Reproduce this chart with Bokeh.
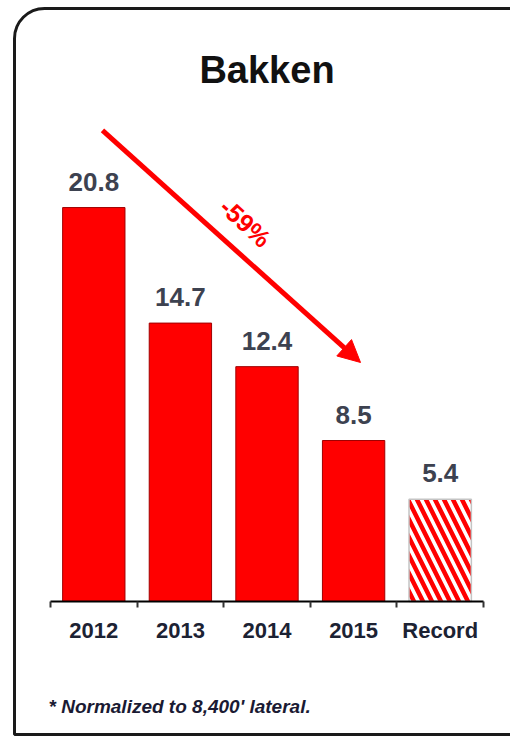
from bokeh.plotting import figure
from bokeh.models import (ColumnDataSource, FixedTicker, Label, Arrow, NormalHead,
                          BoxAnnotation, Range1d, LinearAxis)
from bokeh.embed import file_html
from bokeh.resources import INLINE
from bokeh.core.properties import value

# ---------------- data ----------------
title_text = "Bakken"
categories = ["2012", "2013", "2014", "2015", "Record"]
values = [20.8, 14.7, 12.4, 8.5, 5.4]
value_labels = ["20.8", "14.7", "12.4", "8.5", "5.4"]
is_record = [False, False, False, False, True]
footnote = "* Normalized to 8,400' lateral."

# ---------------- derived ----------------
n = len(categories)
centers = [i + 0.5 for i in range(n)]
change_pct = round((values[3] - values[0]) / values[0] * 100)
change_text = f"{change_pct}%"

solid = ColumnDataSource(dict(
    x=[c for c, r in zip(centers, is_record) if not r],
    top=[v for v, r in zip(values, is_record) if not r]))
hatched = ColumnDataSource(dict(
    x=[c for c, r in zip(centers, is_record) if r],
    top=[v for v, r in zip(values, is_record) if r]))
labels_src = ColumnDataSource(dict(x=centers, y=values, text=value_labels))

FONT = "Liberation Sans"

p = figure(width=510, height=736, output_backend="svg", toolbar_location=None,
           x_range=Range1d(-0.5774, 5.3118), y_range=Range1d(-7.128, 31.732),
           x_axis_location=None, y_axis_location=None,
           min_border=0)
p.grid.visible = False
p.outline_line_color = None
p.background_fill_color = "white"
p.border_fill_color = "white"

# bars
p.vbar(x="x", top="top", bottom=0, width=0.72, source=solid,
       fill_color="#ff0000", line_color="#a00000", line_width=1)
p.vbar(x="x", top="top", bottom=0, width=0.72, source=hatched,
       fill_color="white", line_color="#c4c4c4", line_width=1.5,
       hatch_pattern="\\", hatch_color="#ff0000", hatch_weight=4.5, hatch_scale=18)

# value labels
p.text(x="x", y="y", text="text", source=labels_src,
       text_font=value(FONT), text_font_style="bold", text_font_size="26px",
       text_color="#3d4250", text_align="center", text_baseline="alphabetic",
       y_offset=-26)

# x axis pinned at y = 0
ax = LinearAxis(fixed_location=0, bounds=(0, n))
ax.ticker = FixedTicker(ticks=centers, minor_ticks=list(range(n + 1)))
ax.major_label_overrides = {c: cat for c, cat in zip(centers, categories)}
ax.major_tick_in = 0
ax.major_tick_out = 0
ax.minor_tick_in = 0
ax.minor_tick_out = 6
ax.minor_tick_line_color = "#333333"
ax.minor_tick_line_width = 2
ax.axis_line_color = "black"
ax.axis_line_width = 2
ax.major_label_text_font = FONT
ax.major_label_text_font_style = "bold"
ax.major_label_text_font_size = "22px"
ax.major_label_text_color = "#1c2233"
ax.major_label_standoff = 11
p.add_layout(ax, "below")

# title
p.add_layout(Label(x=n / 2, y=28.04, text=title_text, text_font=FONT,
                   text_font_style="bold", text_font_size="38px",
                   text_color="#111111", text_align="center",
                   text_baseline="alphabetic"))

# arrow and change label
p.add_layout(Arrow(x_start=0.6, y_start=24.87, x_end=3.58, y_end=12.62,
                   line_color="#ff0000", line_width=5,
                   end=NormalHead(size=22, fill_color="#ff0000",
                                  line_color="#ff0000")))
p.add_layout(Label(x=2.25, y=20.0, text=change_text, angle=-0.74,
                   text_font=FONT, text_font_style="bold", text_font_size="25px",
                   text_color="#ff0000", text_align="center",
                   text_baseline="middle"))

# footnote
p.add_layout(Label(x=-0.023, y=-5.54, text=footnote, text_font=FONT,
                   text_font_style="bold italic", text_font_size="19px",
                   text_color="#1a1a33", text_align="left",
                   text_baseline="alphabetic"))

# rounded panel border (right side runs off the page)
p.add_layout(BoxAnnotation(left=-0.4157, right=6.0, top=31.31, bottom=-7.02,
                           fill_color=None, fill_alpha=0,
                           line_color="#1a1a1a", line_width=3, line_alpha=1,
                           border_radius=dict(top_left=30, top_right=0,
                                              bottom_right=0, bottom_left=0)))

open("out.html", "w").write(file_html(p, INLINE))
